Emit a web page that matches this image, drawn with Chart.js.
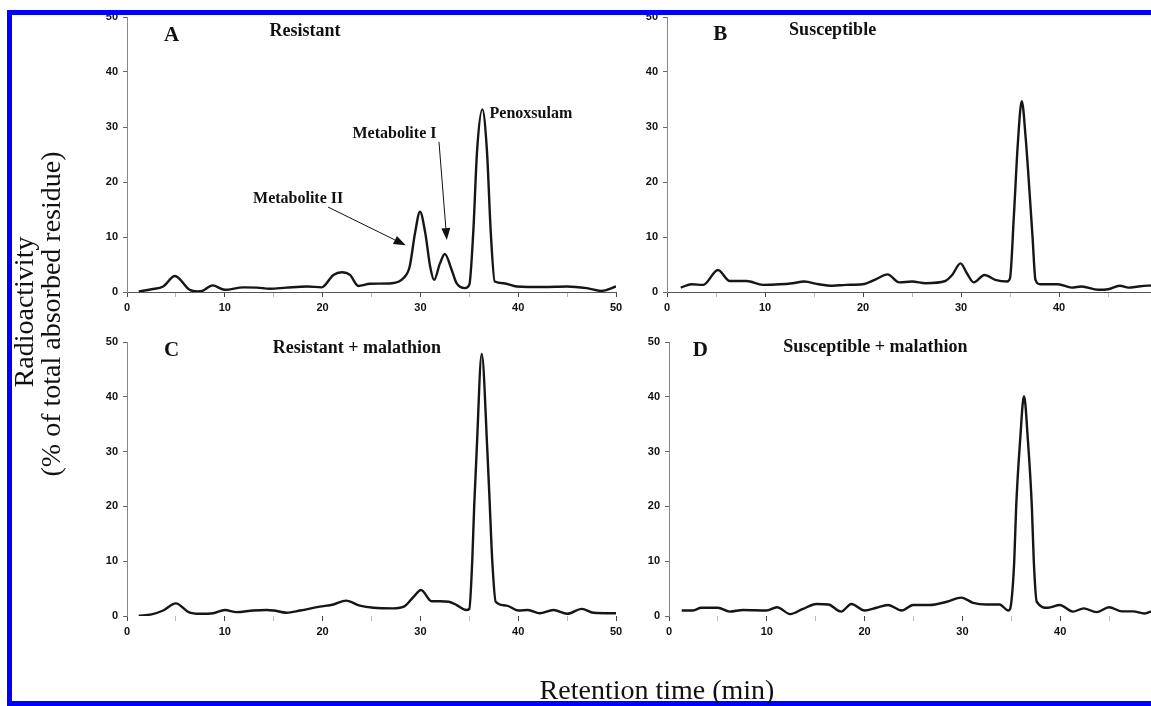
<!DOCTYPE html>
<html>
<head>
<meta charset="utf-8">
<script src="https://cdn.jsdelivr.net/npm/chart.js@4.4.1/dist/chart.umd.min.js"></script>
<style>
    html, body { margin: 0; padding: 0; background: #fff; width: 1151px; height: 706px; overflow: hidden; }
    canvas { position: absolute; z-index: 1; }
    #frame { position: absolute; left: 7px; top: 10px; width: 1200px; height: 696px; box-sizing: border-box; border: 5px solid #0000ff; z-index: 2; }
    .axis-title { position: absolute; z-index: 3; font-family: "Liberation Serif", "Times New Roman", serif; font-size: 28px; line-height: 28px; color: #111; white-space: nowrap; }
    .vertical { transform: translate(-50%, -50%) rotate(-90deg); }
</style>
</head>
<body>
<div id="frame"></div>
<canvas id="chartA" width="540" height="320" style="left:90px;top:5px"></canvas>
<canvas id="chartB" width="540" height="320" style="left:630px;top:5px"></canvas>
<canvas id="chartC" width="540" height="320" style="left:90px;top:330px"></canvas>
<canvas id="chartD" width="540" height="320" style="left:632px;top:330px"></canvas>
<div class="axis-title vertical" style="left:24px;top:312px">Radioactivity</div>
<div class="axis-title vertical" style="left:51px;top:314px">(% of total absorbed residue)</div>
<div class="axis-title" style="left:657px;top:676px;transform:translateX(-50%)">Retention time (min)</div>

<script>
// Axis ticks
const xTicks = [0, 10, 20, 30, 40, 50];
const yTicks = [0, 10, 20, 30, 40, 50];

// A - Resistant
const resistantTime = [1.2, 2.5, 3.7, 4.9, 6.4, 7.2, 7.7, 8.75, 10.0, 11.9, 13.3, 14.6, 16.3, 18.4, 19.9, 21.1, 21.95, 22.8, 23.65, 24.85,
    27.1, 28.25, 28.9, 29.45, 29.96, 30.5, 31.0, 31.4, 32.0, 32.5, 33.2, 33.7, 34.56, 35.0, 35.4, 35.8, 36.33, 36.8, 37.2, 37.6,
    38.5, 39.85, 42.6, 45.0, 47.0, 48.5, 50.0];
const resistantPct = [0.1, 0.5, 1.0, 2.9, 0.4, 0.1, 0.2, 1.2, 0.4, 0.85, 0.8, 0.6, 0.8, 1.0, 0.85, 3.1, 3.6, 3.1, 1.1, 1.5,
    1.6, 2.5, 4.6, 10.7, 14.6, 10.7, 4.6, 2.2, 5.2, 6.9, 4.0, 1.6, 0.7, 1.3, 10.7, 25.8, 33.2, 25.8, 10.7, 1.9,
    1.6, 1.0, 0.9, 1.0, 0.7, 0.2, 1.0];

// B - Susceptible
const susceptibleTime = [1.4, 2.5, 3.7, 5.2, 6.4, 8.1, 9.8, 11.5, 12.8, 14.0, 15.5, 16.9, 18.3, 19.95, 21.3, 22.5, 23.7, 25.0, 26.4, 28.4,
    29.1, 29.95, 30.6, 31.3, 32.4, 33.5, 34.7, 35.0, 35.4, 35.8, 36.2, 36.6, 37.0, 37.3, 37.6, 38.1, 39.9, 41.3, 42.3, 44.0,
    45.0, 46.2, 47.1, 48.1, 49.1, 50.0];
const susceptiblePct = [0.8, 1.4, 1.3, 4.0, 2.0, 2.0, 1.3, 1.4, 1.6, 1.9, 1.4, 1.15, 1.3, 1.4, 2.3, 3.2, 1.75, 1.9, 1.6, 2.0,
    3.1, 5.2, 3.4, 1.75, 3.1, 2.2, 1.9, 2.5, 14, 27, 34.7, 28, 18, 10, 2.2, 1.4, 1.4, 0.8, 1.0, 0.4,
    0.5, 1.15, 0.8, 1.0, 1.15, 1.2];

// C - Resistant + malathion
const resistantMalTime = [1.2, 2.5, 3.7, 5.0, 6.3, 7.5, 8.8, 10.0, 11.2, 12.9, 14.3, 15.0, 16.3, 17.7, 19.7, 21.1, 22.4, 23.8, 25.2, 27.2,
    28.4, 29.3, 30.06, 31.15, 32.0, 32.9, 33.7, 34.7, 35.0, 35.3, 35.5, 35.75, 36.27, 36.85, 37.1, 37.35, 37.7, 38.8, 40.0, 41.0,
    42.2, 43.6, 45.0, 46.5, 47.7, 50.0];
const resistantMalPct = [0.05, 0.3, 1.0, 2.3, 0.7, 0.4, 0.5, 1.1, 0.7, 1.0, 1.1, 1.0, 0.6, 1.0, 1.7, 2.1, 2.8, 1.9, 1.5, 1.4,
    1.8, 3.5, 4.75, 2.7, 2.7, 2.6, 2.0, 1.1, 1.3, 10, 20, 30, 47.8, 30, 20, 10, 2.6, 1.9, 1.0, 1.1,
    0.5, 1.1, 0.4, 1.3, 0.6, 0.5];

// D - Susceptible + malathion
const susceptibleMalTime = [1.3, 2.45, 3.3, 5.0, 6.2, 7.6, 9.96, 11.04, 12.4, 13.7, 15.07, 16.3, 17.6, 18.65, 20.0, 21.2, 22.4, 23.8, 24.95, 26.65,
    28.4, 29.9, 31.1, 32.45, 33.8, 34.7, 35.0, 35.3, 35.5, 35.9, 36.3, 36.7, 37.1, 37.3, 37.6, 38.75, 39.95, 41.3, 42.4, 43.7,
    45.0, 46.3, 47.45, 48.6, 49.1, 50.0];
const susceptibleMalPct = [1.0, 1.0, 1.5, 1.5, 0.8, 1.1, 1.0, 1.6, 0.35, 1.3, 2.2, 2.1, 0.8, 2.2, 1.0, 1.5, 2.0, 1.0, 2.0, 2.0,
    2.6, 3.35, 2.4, 2.1, 2.1, 1.0, 2.5, 10, 20, 32, 40.1, 32, 20, 10, 2.6, 1.5, 2.0, 0.8, 1.4, 0.7,
    1.6, 0.85, 0.85, 0.45, 0.7, 1.0];

const serif = '"Liberation Serif", "Times New Roman", serif';
const sans = '"Liberation Sans", Arial, sans-serif';

// Draws panel letters, titles and annotation arrows (positions in data units)
function textPlugin(labels, arrows) {
    return {
        id: 'panelText',
        afterDraw(chart) {
            const ctx = chart.ctx;
            const xs = chart.scales.x, ys = chart.scales.y;
            ctx.save();
            ctx.fillStyle = '#111';
            ctx.strokeStyle = '#111';
            ctx.textAlign = 'center';
            ctx.textBaseline = 'middle';
            labels.forEach(l => {
                ctx.font = l.font;
                ctx.fillText(l.text, xs.getPixelForValue(l.x), ys.getPixelForValue(l.y));
            });
            arrows.forEach(a => {
                const x1 = xs.getPixelForValue(a.from[0]), y1 = ys.getPixelForValue(a.from[1]);
                const x2 = xs.getPixelForValue(a.to[0]), y2 = ys.getPixelForValue(a.to[1]);
                const ang = Math.atan2(y2 - y1, x2 - x1);
                const len = 12, half = 4.5;
                const bx = x2 - len * Math.cos(ang), by = y2 - len * Math.sin(ang);
                ctx.lineWidth = 1;
                ctx.beginPath();
                ctx.moveTo(x1, y1);
                ctx.lineTo(bx, by);
                ctx.stroke();
                ctx.beginPath();
                ctx.moveTo(x2, y2);
                ctx.lineTo(bx + half * Math.sin(ang), by - half * Math.cos(ang));
                ctx.lineTo(bx - half * Math.sin(ang), by + half * Math.cos(ang));
                ctx.closePath();
                ctx.fill();
            });
            ctx.restore();
        }
    };
}

function makePanel(id, times, values, cfg) {
    const ctx = document.getElementById(id).getContext('2d');
    return new Chart(ctx, {
        type: 'line',
        data: {
            datasets: [{
                data: times.map((t, i) => ({ x: t, y: values[i] })),
                borderColor: '#161616',
                borderWidth: 2.4,
                pointRadius: 0,
                fill: false,
                cubicInterpolationMode: 'monotone'
            }]
        },
        options: {
            responsive: false,
            animation: false,
            devicePixelRatio: 1,
            layout: { padding: { top: cfg.padTop, right: cfg.padRight, left: 0, bottom: 0 } },
            plugins: { legend: { display: false }, tooltip: { enabled: false } },
            scales: {
                x: {
                    type: 'linear',
                    min: 0,
                    max: 50,
                    border: { display: cfg.xLine, color: '#555', width: 1 },
                    grid: {
                        drawOnChartArea: false,
                        tickLength: 5,
                        tickColor: c => (c.tick && xTicks.includes(c.tick.value)) ? '#444' : '#bbb'
                    },
                    ticks: {
                        stepSize: 5,
                        autoSkip: false,
                        maxRotation: 0,
                        padding: 4,
                        color: '#111',
                        font: { family: sans, size: 11, weight: 'bold' },
                        callback: v => xTicks.includes(v) ? v : ''
                    },
                    afterFit: s => { s.height = cfg.xHeight; }
                },
                y: {
                    min: 0,
                    max: 50,
                    border: { color: '#888', width: 1 },
                    grid: { drawOnChartArea: false, tickLength: 4, tickColor: '#666' },
                    ticks: {
                        stepSize: 10,
                        padding: 5,
                        color: '#111',
                        font: { family: sans, size: 11, weight: 'bold' },
                        callback: v => yTicks.includes(v) ? v : ''
                    },
                    afterFit: s => { s.width = 37; }
                }
            }
        },
        plugins: [textPlugin(cfg.labels, cfg.arrows || [])]
    });
}

const letterFont = 'bold 21px ' + serif;
const titleFont = 'bold 18px ' + serif;
const noteFont = 'bold 16px ' + serif;

makePanel('chartA', resistantTime, resistantPct, {
    padTop: 12, padRight: 14, xHeight: 33, xLine: true,
    labels: [
        { text: 'A', x: 4.55, y: 46.7, font: letterFont },
        { text: 'Resistant', x: 18.2, y: 47.4, font: titleFont },
        { text: 'Metabolite II', x: 17.5, y: 16.9, font: noteFont },
        { text: 'Metabolite I', x: 27.35, y: 28.7, font: noteFont },
        { text: 'Penoxsulam', x: 41.3, y: 32.4, font: noteFont }
    ],
    arrows: [
        { from: [20.55, 15.45], to: [28.5, 8.5] },
        { from: [31.9, 27.3], to: [32.7, 9.45] }
    ]
});

makePanel('chartB', susceptibleTime, susceptiblePct, {
    padTop: 12, padRight: 13, xHeight: 33, xLine: true,
    labels: [
        { text: 'B', x: 5.44, y: 46.8, font: letterFont },
        { text: 'Susceptible', x: 16.9, y: 47.5, font: titleFont }
    ]
});

makePanel('chartC', resistantMalTime, resistantMalPct, {
    padTop: 12, padRight: 14, xHeight: 34, xLine: false,
    labels: [
        { text: 'C', x: 4.55, y: 48.5, font: letterFont },
        { text: 'Resistant + malathion', x: 23.5, y: 48.8, font: titleFont }
    ]
});

makePanel('chartD', susceptibleMalTime, susceptibleMalPct, {
    padTop: 12, padRight: 14, xHeight: 34, xLine: false,
    labels: [
        { text: 'D', x: 3.2, y: 48.4, font: letterFont },
        { text: 'Susceptible + malathion', x: 21.1, y: 49.0, font: titleFont }
    ]
});
</script>
</body>
</html>
